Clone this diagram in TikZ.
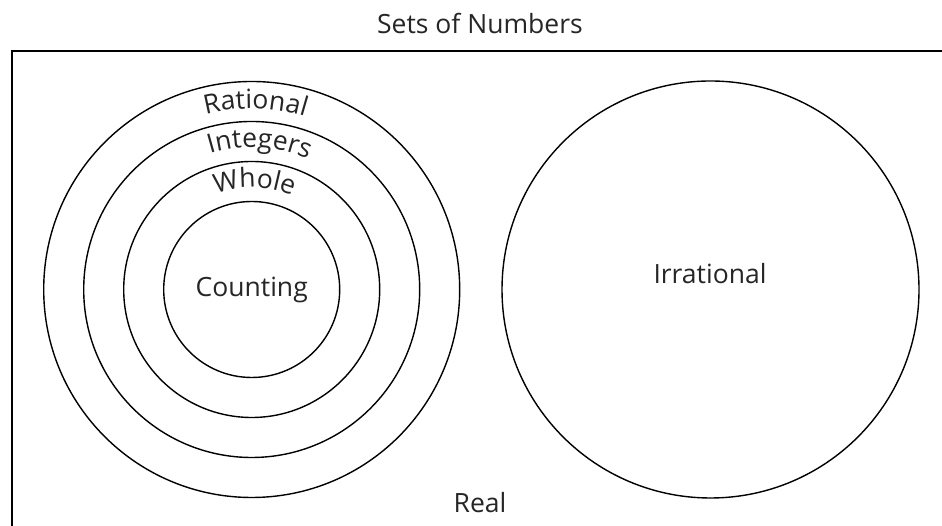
\documentclass[tikz,border=0pt]{standalone}
\usepackage{fontspec}
\setmainfont{Open Sans}
\usetikzlibrary{positioning,decorations.text}

\newcommand{\setfont}{\fontsize{26.5}{30}\selectfont}

\begin{document}
\begin{tikzpicture}[
    x=1pt, y=1pt,
    set/.style={draw, circle, line width=1.4pt, inner sep=0pt, outer sep=0pt, text=black!85, font=\setfont},
    frame/.style={draw, line width=1.8pt, inner sep=0pt, anchor=north west},
    word/.style={text=black!85, font=\setfont, inner sep=0pt},
    bend/.style={decorate, decoration={text along path, text align=center, text color=black!85, text={|\setfont|#1}}}
]
\useasboundingbox (0,0) rectangle (942,526);
\clip (0,0) rectangle (942,526);
\fill[white] (0,0) rectangle (942,526);

\node[frame, minimum width=960pt, minimum height=500pt] (realbox) at (11,476) {};
\node[word] (title) at (480,502.5) {Sets of Numbers};
\node[word] (real) at (480,23.5) {Real};

% nested sets
\node[set, minimum size=416pt] (rational) at (251.7,236.5) {};
\node[set, minimum size=336pt] (integers) at (rational.center) {};
\node[set, minimum size=256pt] (whole) at (rational.center) {};
\node[set, minimum size=176pt] (counting) at (rational.center) {Counting};

\node[set, minimum size=417pt] (irrational) at (710.5,236.5) {};
\node[word] (irrtext) at (710,252) {Irrational};

% curved names
\path[bend=Rational] (rational.center) ++(178.8:181) arc[start angle=178.8, end angle=-1.2, radius=181];
\path[bend=Integers] (rational.center) ++(176.8:142) arc[start angle=176.8, end angle=-3.2, radius=142];
\path[bend=Whole] (rational.center) ++(178.5:102) arc[start angle=178.5, end angle=-1.5, radius=102];
\end{tikzpicture}
\end{document}
